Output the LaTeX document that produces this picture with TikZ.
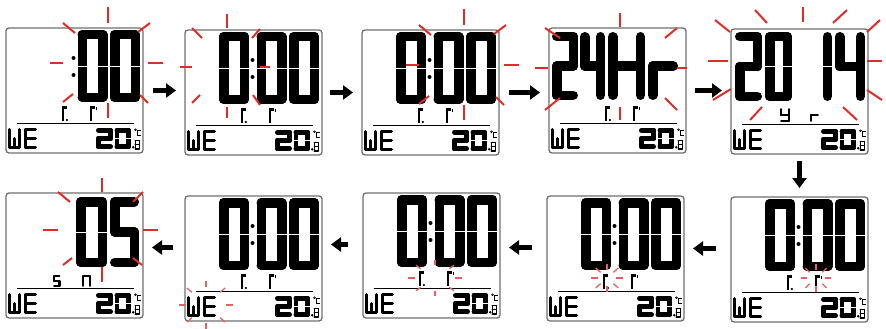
\documentclass[tikz,border=0pt]{standalone}
\usetikzlibrary{arrows.meta}
\definecolor{raycol}{RGB}{222,45,40}
\definecolor{framecol}{RGB}{110,110,110}
\tikzset{
  panel/.style={draw=framecol, line width=1.3pt, rounded corners=3pt, minimum width=137pt, minimum height=125pt, anchor=north west, inner sep=0pt, outer sep=0pt},
  seg/.style={line cap=round, line join=round},
  ray/.style={draw=raycol, line width=2pt},
  sray/.style={draw=raycol!75, line width=1.3pt},
  arr/.style={line width=4.5pt, -{Triangle[length=10pt,width=14pt]}},
  sepline/.style={line width=1.2pt},
}
\newcommand\lcdglyph[6]{%
  \begin{scope}[shift={(#1,#2)}]
    \pgfmathsetmacro\lcdL{#5/2}%
    \pgfmathsetmacro\lcdR{#3-#5/2}%
    \pgfmathsetmacro\lcdT{#5/2}%
    \pgfmathsetmacro\lcdB{#4-#5/2}%
    \pgfmathsetmacro\lcdM{#4/2}%
    \pgfmathsetmacro\lcdC{#3/2}%
    \def\lcdw{#5}%
    \def\lcdlw{#5pt}%
    #6
  \end{scope}}
\newcommand\SegA{\draw[seg,line width=\lcdlw] (\lcdL,\lcdT)--(\lcdR,\lcdT);}
\newcommand\SegB{\draw[seg,line width=\lcdlw] (\lcdR,\lcdT)--(\lcdR,\lcdM);}
\newcommand\SegC{\draw[seg,line width=\lcdlw] (\lcdR,\lcdM)--(\lcdR,\lcdB);}
\newcommand\SegD{\draw[seg,line width=\lcdlw] (\lcdL,\lcdB)--(\lcdR,\lcdB);}
\newcommand\SegE{\draw[seg,line width=\lcdlw] (\lcdL,\lcdM)--(\lcdL,\lcdB);}
\newcommand\SegF{\draw[seg,line width=\lcdlw] (\lcdL,\lcdT)--(\lcdL,\lcdM);}
\newcommand\SegG{\draw[seg,line width=\lcdlw] (\lcdL,\lcdM)--(\lcdR,\lcdM);}
\newcommand\SegW{\draw[seg,line width=\lcdlw] (\lcdC,\lcdM)--(\lcdC,\lcdB);}
\newcommand\CutL{\draw[white,line width=0.9pt] ({\lcdL-\lcdw/2-0.5},\lcdM)--({\lcdL+\lcdw/2+0.5},\lcdM);}
\newcommand\CutR{\draw[white,line width=0.9pt] ({\lcdR-\lcdw/2-0.5},\lcdM)--({\lcdR+\lcdw/2+0.5},\lcdM);}
\newcommand\DigZero{\SegA\SegB\SegC\SegD\SegE\SegF\CutL\CutR}
\newcommand\DigOne{\SegB\SegC\CutR}
\newcommand\DigTwo{\SegA\SegB\SegG\SegE\SegD}
\newcommand\DigFour{\SegF\SegG\SegB\SegC}
\newcommand\DigFive{\SegA\SegF\SegG\SegC\SegD}
\newcommand\DigEight{\SegA\SegB\SegC\SegD\SegE\SegF\SegG}
\newcommand\DigH{\SegB\SegC\SegE\SegF\SegG}
\newcommand\DigR{\SegE\SegG}
\newcommand\DigY{\SegF\SegB\SegG\SegC\SegD}
\newcommand\DigN{\SegA\SegB\SegC\SegE\SegF}
\def\bigw{9.5}
% panel parts (coordinates relative to the panel's top-left corner)
\newcommand\lcdbase{%
  \draw[sepline] (11,95.5)--(128,95.5);
  \lcdglyph{2}{100}{13}{21}{3}{\SegE\SegF\SegB\SegC\SegD\SegW}
  \lcdglyph{18}{100}{13}{21}{3}{\SegA\SegF\SegE\SegG\SegD}
  \lcdglyph{90}{100}{17}{21}{4.8}{\DigTwo}
  \lcdglyph{108.5}{100}{16.5}{21}{4.8}{\DigZero}
  \fill (127.2,119.3) circle (1.4);
  \draw[line width=0.6pt] (129.5,101.8) circle (0.9);
  \draw[line width=1pt] (134.5,102.5)--(131.8,102.5)--(131.8,107.5)--(134.5,107.5);
  \lcdglyph{128.5}{112}{5.5}{9.5}{1.4}{\DigEight}
}
\newcommand\lcdcolon{\fill (67.5,30) circle (2); \fill (67.5,47) circle (2);}
\newcommand\lcdhour{\lcdglyph{34}{2}{30}{72}{\bigw}{\DigZero}}
\newcommand\lcdmin{\lcdglyph{71.5}{2}{30}{72}{\bigw}{\DigZero}\lcdglyph{104}{2}{30}{72}{\bigw}{\DigZero}}
\newcommand\lcddm{%
  \draw[line width=2.4pt] (57,93)--(57,79.5)--(61,79.5);
  \fill (60.8,92) circle (1.2);
  \draw[line width=2.4pt] (85,93)--(85,79.5)--(89,79.5);
  \draw[line width=1pt] (90.5,78.5)--(90.5,81.5);
}
\newcommand\ellrays[6]{\foreach \t in {0,45,...,315} \draw[sray] ({#1+#3*cos(\t)},{#2+#4*sin(\t)}) -- ({#1+#5*cos(\t)},{#2+#6*sin(\t)});}

\begin{document}
\begin{tikzpicture}[x=1pt,y=-1pt]
\useasboundingbox (0,0) rectangle (886,329);
% panels
\node[panel] (p1) at (6,28) {};
\node[panel] (p2) at (185,30) {};
\node[panel] (p3) at (362,30) {};
\node[panel] (p4) at (549,28) {};
\node[panel] (p5) at (731,29) {};
\node[panel] (p6) at (731,197) {};
\node[panel] (p7) at (547,196) {};
\node[panel] (p8) at (363,193) {};
\node[panel] (p9) at (185,196) {};
\node[panel] (p10) at (6,193) {};
% panel contents
\begin{scope}[shift={(p1.north west)}] \lcdcolon\lcdmin\lcddm\lcdbase \end{scope}
\begin{scope}[shift={(p2.north west)}] \lcdhour\lcdcolon\lcdmin\lcddm\lcdbase \end{scope}
\begin{scope}[shift={(p3.north west)}] \lcdhour\lcdcolon\lcdmin\lcddm\lcdbase \end{scope}
\begin{scope}[shift={(p4.north west)}]
  \lcdglyph{3}{4}{26}{68}{\bigw}{\DigTwo}
  \lcdglyph{31}{4}{25}{68}{\bigw}{\DigFour}
  \lcdglyph{59}{4}{37}{68}{\bigw}{\DigH}
  \lcdglyph{99}{4}{30}{68}{\bigw}{\DigR}
  \lcddm\lcdbase
\end{scope}
\begin{scope}[shift={(p5.north west)}]
  \lcdglyph{4}{3}{27}{69}{\bigw}{\DigTwo}
  \lcdglyph{34}{3}{27}{69}{\bigw}{\DigZero}
  \lcdglyph{91}{3}{10}{69}{\bigw}{\DigOne}
  \lcdglyph{104}{3}{30}{69}{\bigw}{\DigFour}
  \lcdglyph{49}{79}{10}{14}{2.2}{\DigY}
  \lcdglyph{79}{79}{9}{14}{2.2}{\DigR}
  \lcdbase
\end{scope}
\begin{scope}[shift={(p6.north west)}] \lcdhour\lcdcolon\lcdmin\lcddm\lcdbase \end{scope}
\begin{scope}[shift={(p7.north west)}] \lcdhour\lcdcolon\lcdmin\lcddm\lcdbase \end{scope}
\begin{scope}[shift={(p8.north west)}] \lcdhour\lcdcolon\lcdmin\lcddm\lcdbase \end{scope}
\begin{scope}[shift={(p9.north west)}] \lcdhour\lcdcolon\lcdmin\lcddm\lcdbase \end{scope}
\begin{scope}[shift={(p10.north west)}]
  \lcdglyph{70}{4}{31}{70}{\bigw}{\DigZero}
  \lcdglyph{104}{4}{29}{70}{\bigw}{\DigFive}
  \lcdglyph{47}{82}{7.5}{12}{2.2}{\DigFive}
  \lcdglyph{76}{82}{9}{12}{2.2}{\DigN}
  \lcdbase
\end{scope}
% blinking rays
\foreach \a/\b/\c/\d in {108/7/108/23, 50/63/63/63, 148/63/163/63, 108/103/108/118, 63/23/75/33, 138/32/150/23, 63/102/73/94, 140/95/148/103}
  \draw[ray] (\a,\b)--(\c,\d);
\foreach \a/\b/\c/\d in {227/14/227/28, 180/67/192/67, 260/67/270/67, 227/107/227/118, 192/28/202/38, 252/38/260/29, 192/103/200/95, 253/95/260/105}
  \draw[ray] (\a,\b)--(\c,\d);
\foreach \a/\b/\c/\d in {464/9/464/25, 406/65/419/65, 504/65/519/65, 464/105/464/120, 419/25/431/35, 494/34/506/25, 419/104/429/96, 496/97/504/105}
  \draw[ray] (\a,\b)--(\c,\d);
\foreach \a/\b/\c/\d in {620/13/620/27, 535/68/548/68, 677/68/687/68, 620/107/620/120, 545/28/560/38, 665/38/677/28, 545/110/560/98, 665/98/677/110}
  \draw[ray] (\a,\b)--(\c,\d);
\foreach \a/\b/\c/\d in {803/7/803/22, 755/10/767/23, 833/23/847/10, 715/20/730/32, 867/32/880/20, 708/61/728/61, 867/61/882/61, 713/100/731/89, 750/120/762/107, 843/107/857/120, 867/90/882/100}
  \draw[ray] (\a,\b)--(\c,\d);
\foreach \a/\b/\c/\d in {102/178/102/192, 43/230/58/230, 143/230/158/230, 102/267/102/282, 58/192/70/202, 133/202/143/192, 63/265/72/258, 133/258/142/265}
  \draw[ray] (\a,\b)--(\c,\d);
\ellrays{816}{278}{9}{8}{15}{14}
\ellrays{607}{278}{9}{8}{16}{14}
\ellrays{435}{278}{20}{13}{27}{18}
\ellrays{206}{305}{20}{18}{27}{24}
% arrows
\draw[arr, shorten <=10pt, shorten >=9pt] (p1.east) -- (p1.east -| p2.west);
\draw[arr, shorten <=8pt, shorten >=9pt] (p2.east) -- (p2.east -| p3.west);
\draw[arr, shorten <=10pt, shorten >=9pt] (p3.east) -- (p3.east -| p4.west);
\draw[arr, shorten <=9pt, shorten >=9pt] (p4.east) -- (p4.east -| p5.west);
\draw[arr, shorten <=7pt, shorten >=9pt] (p5.south) -- (p5.south |- p6.north);
\draw[arr, shorten <=15pt, shorten >=9pt] ([yshift=11pt]p6.west) -- ([yshift=11pt]p6.west -| p7.east);
\draw[arr, shorten <=15pt, shorten >=9pt] ([yshift=11pt]p7.west) -- ([yshift=11pt]p7.west -| p8.east);
\draw[arr, shorten <=15pt, shorten >=9pt] ([yshift=11pt]p8.west) -- ([yshift=11pt]p8.west -| p9.east);
\draw[arr, shorten <=12pt, shorten >=9pt] ([yshift=11pt]p9.west) -- ([yshift=11pt]p9.west -| p10.east);
\end{tikzpicture}
\end{document}
